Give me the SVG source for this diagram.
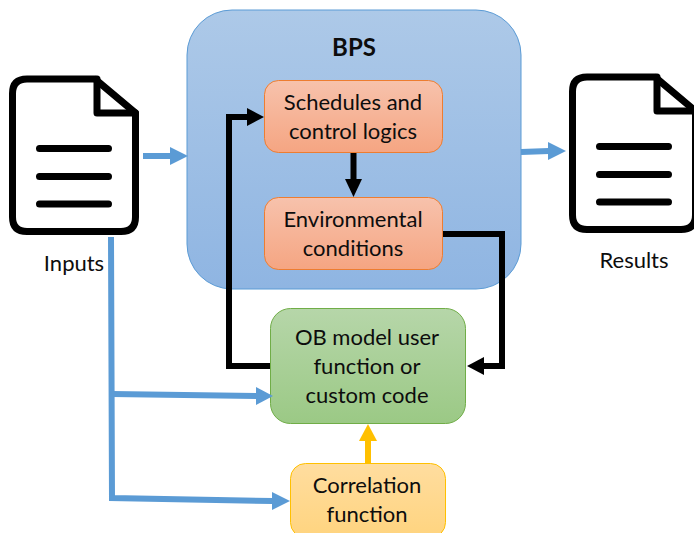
<svg xmlns="http://www.w3.org/2000/svg" width="694" height="533" viewBox="0 0 694 533">
<defs>
<linearGradient id="gb" x1="0" y1="0" x2="0" y2="1"><stop offset="0" stop-color="#adc9e8"/><stop offset="1" stop-color="#8fb5e2"/></linearGradient>
<linearGradient id="go" x1="0" y1="0" x2="0" y2="1"><stop offset="0" stop-color="#f7c2ac"/><stop offset="1" stop-color="#f5a582"/></linearGradient>
<linearGradient id="gg" x1="0" y1="0" x2="0" y2="1"><stop offset="0" stop-color="#b6d6a9"/><stop offset="1" stop-color="#9bc985"/></linearGradient>
<linearGradient id="gy" x1="0" y1="0" x2="0" y2="1"><stop offset="0" stop-color="#ffdd9f"/><stop offset="1" stop-color="#ffd47f"/></linearGradient>
<g id="doc" fill="none" stroke="#000" stroke-width="7" stroke-linejoin="round" stroke-linecap="round">
<path d="M27 79H95L135.500 113V217Q135.500 231.500 121 231.500H27Q12.500 231.500 12.500 217V93.500Q12.500 79 27 79Z"/>
<path d="M97 79V113H135.500"/>
<path d="M39.500 148.500H108.500M39.500 176.500H108.500M39.500 204H108.500"/>
</g>
</defs>
<style>
text{font-family:"Lato","Liberation Sans",sans-serif;font-size:22px;fill:#0d0d0d;text-anchor:middle}
.bl{fill:none;stroke:#5b9bd5;stroke-width:6}
.bk{fill:none;stroke:#000;stroke-width:6}
.ye{fill:none;stroke:#ffc000;stroke-width:6}
</style>
<g id="bps"><rect x="187" y="10" width="334" height="279" rx="45" fill="url(#gb)" stroke="#5b9bd5"/><text x="354" y="56" style="font-weight:700;font-size:24px">BPS</text></g>
<g id="inputs"><use href="#doc"/><text x="74" y="271">Inputs</text></g>
<g id="results"><use href="#doc" x="560" y="-2"/><text x="634" y="268">Results</text></g>
<g id="schedules"><rect x="264.500" y="80.500" width="178" height="72" rx="14" fill="url(#go)" stroke="#ed7d31"/><text x="353" y="110">Schedules and</text><text x="353" y="139">control logics</text></g>
<g id="environmental"><rect x="264.500" y="197.500" width="178" height="72" rx="14" fill="url(#go)" stroke="#ed7d31"/><text x="353" y="227">Environmental</text><text x="353" y="256">conditions</text></g>
<g id="ob"><rect x="270.500" y="308.500" width="195" height="115" rx="20" fill="url(#gg)" stroke="#70ad47"/><text x="367" y="345">OB model user</text><text x="367" y="374">function or</text><text x="367" y="403">custom code</text></g>
<g id="correlation"><rect x="290.500" y="463.500" width="155" height="74" rx="15" fill="url(#gy)" stroke="#ffc000"/><text x="367" y="493">Correlation</text><text x="367" y="522">function</text></g>
<g id="connectors">
<path class="bl" d="M143 156H171"/><path d="M170 147L188 156L170 165Z" fill="#5b9bd5"/>
<path class="bl" d="M521 152L549 151"/><path d="M548 142L566 151L548 160Z" fill="#5b9bd5"/>
<path class="bl" d="M111 237L112 498L273 501"/><path d="M272 492L290 501L272 510Z" fill="#5b9bd5"/>
<path class="bl" d="M112 394L257 396"/><path d="M256 387L273 396L256 405Z" fill="#5b9bd5"/>
<path class="bk" d="M270 366H229V117H248"/><path d="M247 108L264 117L247 126Z"/>
<path class="bk" d="M443 234H502V366H483"/><path d="M484 357L467 366L484 375Z"/>
<path class="bk" d="M353.500 153V180"/><path d="M345 179L353.500 197L362 179Z"/>
<path class="ye" d="M368 463V440"/><path d="M359 441L368 424L377 441Z" fill="#ffc000"/>
</g>
</svg>
